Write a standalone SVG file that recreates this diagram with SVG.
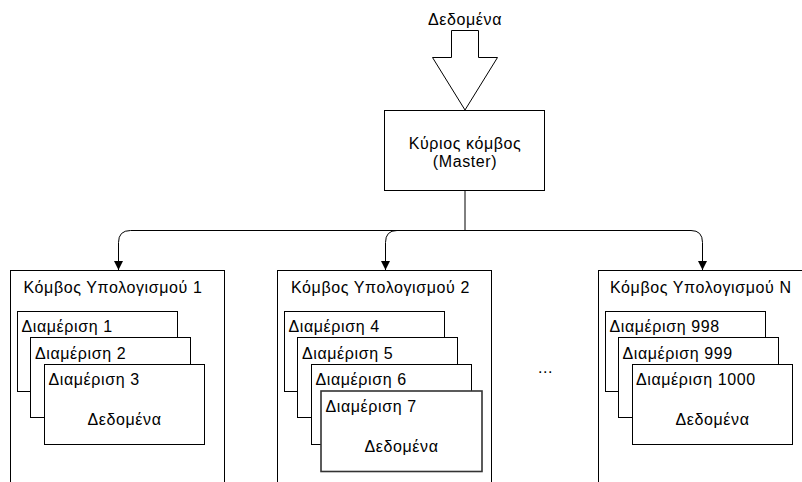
<svg xmlns="http://www.w3.org/2000/svg" width="802" height="482" viewBox="0 0 802 482">
  <defs>
    <marker id="arrow" viewBox="0 0 10 10" refX="10" refY="5" markerWidth="9" markerHeight="12" markerUnits="userSpaceOnUse" orient="auto">
      <path d="M0,0 L10,5 L0,10 z" fill="#000"/>
    </marker>
    <style>
      .box { fill: #fff; stroke: #000; stroke-width: 1; }
      .part7 { fill: #fff; stroke: #333; stroke-width: 1.6; }
      .edge { fill: none; stroke: #000; stroke-width: 1; }
      text { font-family: "Liberation Sans", Arial, sans-serif; font-size: 16px; letter-spacing: 0.6px; fill: #000; }
      .mid { text-anchor: middle; }
    </style>
  </defs>

  <rect width="802" height="482" fill="#fff"/>

  <!-- input block arrow -->
  <g id="input">
    <text class="mid" x="465" y="24.5">Δεδομένα</text>
    <polygon class="box" points="451.5,30.5 478.5,30.5 478.5,57.5 497.5,57.5 465,110 432.5,57.5 451.5,57.5"/>
  </g>

  <!-- master node -->
  <g id="master">
    <rect class="box" x="384.5" y="110.5" width="160" height="80"/>
    <text class="mid" x="465" y="149">Κύριος κόμβος</text>
    <text class="mid" x="465" y="167">(Master)</text>
  </g>

  <!-- connectors -->
  <g id="connectors">
    <path class="edge" d="M465,190.5 V230.5"/>
    <path class="edge" d="M465,230.5 H130.5 Q118.5,230.5 118.5,242.5 V270" marker-end="url(#arrow)"/>
    <path class="edge" d="M465,230.5 H397 Q385.5,230.5 385.5,242.5 V270" marker-end="url(#arrow)"/>
    <path class="edge" d="M465,230.5 H691 Q702.5,230.5 702.5,242.5 V270" marker-end="url(#arrow)"/>
  </g>

  <!-- worker node 1 -->
  <g id="worker1">
    <rect class="box" x="10.5" y="270.5" width="214" height="230"/>
    <text x="23.5" y="292.5">Κόμβος Υπολογισμού 1</text>
    <rect class="box" x="17.5" y="311.5" width="160" height="80"/>
    <text x="21.5" y="332">Διαμέριση 1</text>
    <rect class="box" x="30.5" y="337.5" width="160" height="80"/>
    <text x="35" y="358.5">Διαμέριση 2</text>
    <rect class="box" x="44.5" y="364.5" width="160" height="80"/>
    <text x="48.5" y="385">Διαμέριση 3</text>
    <text class="mid" x="124.5" y="425">Δεδομένα</text>
  </g>

  <!-- worker node 2 -->
  <g id="worker2">
    <rect class="box" x="277.5" y="270.5" width="214" height="230"/>
    <text x="291" y="292.5">Κόμβος Υπολογισμού 2</text>
    <rect class="box" x="284.5" y="311.5" width="160" height="80"/>
    <text x="288.5" y="332">Διαμέριση 4</text>
    <rect class="box" x="297.5" y="337.5" width="160" height="80"/>
    <text x="302" y="358.5">Διαμέριση 5</text>
    <rect class="box" x="311.5" y="364.5" width="160" height="80"/>
    <text x="315.5" y="385">Διαμέριση 6</text>
    <rect class="part7" x="321" y="391" width="161" height="80.5"/>
    <text x="325.5" y="412">Διαμέριση 7</text>
    <text class="mid" x="401.5" y="452">Δεδομένα</text>
  </g>

  <!-- ellipsis between workers -->
  <g id="more">
    <text x="538" y="373">...</text>
  </g>

  <!-- worker node N -->
  <g id="workerN">
    <rect class="box" x="598.5" y="270.5" width="214" height="230"/>
    <text x="610" y="292.5">Κόμβος Υπολογισμού Ν</text>
    <rect class="box" x="605.5" y="311.5" width="160" height="80"/>
    <text x="609.5" y="332">Διαμέριση 998</text>
    <rect class="box" x="618.5" y="337.5" width="160" height="80"/>
    <text x="622.5" y="358.5">Διαμέριση 999</text>
    <rect class="box" x="632.5" y="364.5" width="160" height="80"/>
    <text x="636" y="385">Διαμέριση 1000</text>
    <text class="mid" x="712.5" y="425">Δεδομένα</text>
  </g>
</svg>
